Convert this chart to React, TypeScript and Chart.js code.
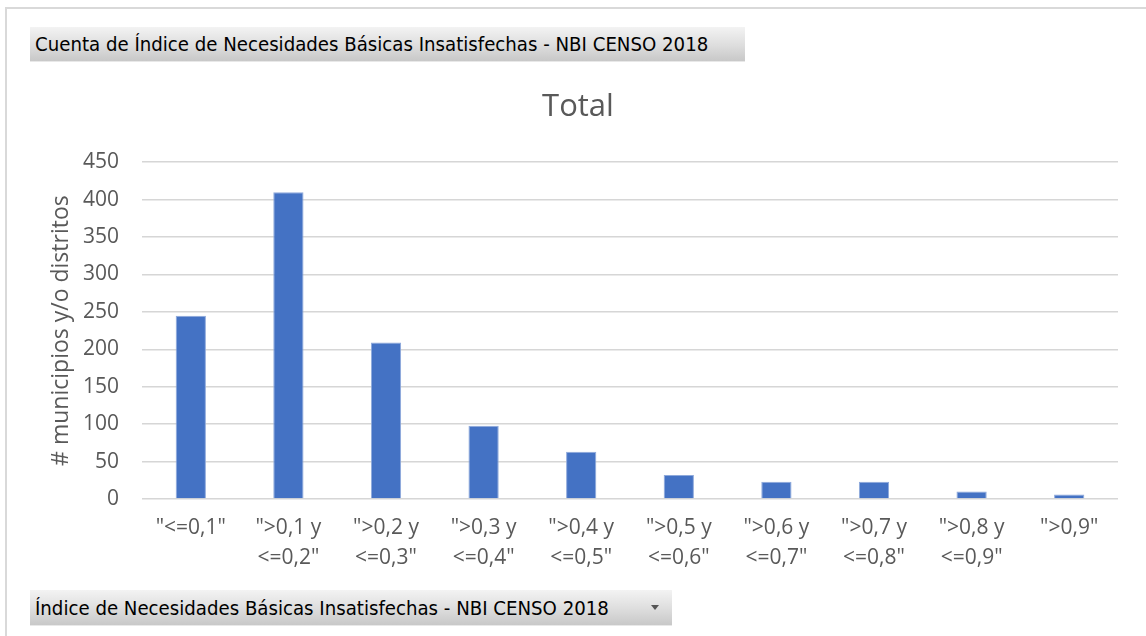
import React, { useEffect, useRef } from "react";
import { Chart, registerables } from "chart.js";

Chart.register(...registerables);

const categories: (string | string[])[] = [
  '"<=0,1"',
  ['">0,1 y', '<=0,2"'],
  ['">0,2 y', '<=0,3"'],
  ['">0,3 y', '<=0,4"'],
  ['">0,4 y', '<=0,5"'],
  ['">0,5 y', '<=0,6"'],
  ['">0,6 y', '<=0,7"'],
  ['">0,7 y', '<=0,8"'],
  ['">0,8 y', '<=0,9"'],
  '">0,9"',
];
const counts = [245, 410, 209, 98, 63, 32, 23, 23, 10, 6];
const yMax = 450;
const yStep = 50;
const chartTitle = "Total";
const yAxisTitle = "# municipios y/o distritos";
const topButtonText = "Cuenta de Índice de Necesidades Básicas Insatisfechas - NBI CENSO 2018";
const bottomButtonText = "Índice de Necesidades Básicas Insatisfechas - NBI CENSO 2018";

const FONT = "'Open Sans', 'Noto Sans', sans-serif";
const BTN_FONT = "'DejaVu Sans Condensed', 'DejaVu Sans', sans-serif";
const TEXT = "#595959";

const buttonStyle: React.CSSProperties = {
  position: "absolute",
  left: 30,
  background: "linear-gradient(to bottom, #f3f3f3 0%, #dddddd 55%, #c8c8c8 100%)",
  borderBottom: "1px solid #e8e8e8",
  fontFamily: BTN_FONT,
  fontSize: 20.2,
  color: "#000",
  boxSizing: "border-box",
  paddingLeft: 5,
  whiteSpace: "nowrap",
  zIndex: 2,
};

export default function App() {
  const ref = useRef<HTMLCanvasElement>(null);
  useEffect(() => {
    document.body.style.margin = "0";
    const chart = new Chart(ref.current!, {
      type: "bar",
      data: {
        labels: categories,
        datasets: [
          {
            data: counts,
            backgroundColor: "#4472C4",
            borderColor: "#8EA9DB",
            borderWidth: 1,
            barPercentage: 0.31,
            categoryPercentage: 1,
          },
        ],
      },
      options: {
        animation: false,
        responsive: false,
        maintainAspectRatio: false,
        layout: { padding: { top: 89, left: 38, right: 28, bottom: 49 } },
        plugins: {
          legend: { display: false },
          tooltip: { enabled: false },
          title: {
            display: true,
            text: chartTitle,
            color: TEXT,
            font: { family: FONT, size: 31, weight: "normal" },
            padding: { top: 0, bottom: 36 },
          },
        },
        scales: {
          x: {
            grid: { display: false, drawTicks: false },
            border: { display: false },
            ticks: {
              color: TEXT,
              font: { family: FONT, size: 21, lineHeight: "30px" as any },
              padding: 14,
              maxRotation: 0,
              autoSkip: false,
            },
          },
          y: {
            min: 0,
            max: yMax,
            afterFit: (scale: any) => {
              scale.width = 104;
            },
            ticks: {
              stepSize: yStep,
              color: TEXT,
              font: { family: FONT, size: 21 },
              padding: 23,
            },
            grid: { color: "#d6d6d6", lineWidth: 1.6, drawTicks: false },
            border: { display: false },
            title: {
              display: true,
              text: yAxisTitle,
              color: TEXT,
              font: { family: FONT, size: 23 },
              padding: { top: 10, bottom: 0 },
            },
          },
        },
      },
    });
    return () => chart.destroy();
  }, []);

  return (
    <div style={{ position: "absolute", left: 0, top: 0, width: 1146, height: 636, background: "#fff", overflow: "hidden" }}>
      <div
        style={{
          position: "absolute",
          left: 5,
          top: 7,
          width: 1200,
          height: 700,
          borderTop: "2px solid #d9d9d9",
          borderLeft: "2px solid #d9d9d9",
          zIndex: 1,
        }}
      />
      <canvas ref={ref} width={1146} height={636} style={{ position: "absolute", left: 0, top: 0 }} />
      <div style={{ ...buttonStyle, top: 27, width: 715, height: 35, lineHeight: "35px" }}>{topButtonText}</div>
      <div style={{ ...buttonStyle, top: 590, width: 642, height: 36, lineHeight: "36px" }}>
        {bottomButtonText}
        <div
          style={{
            position: "absolute",
            left: 621,
            top: 15,
            width: 0,
            height: 0,
            borderLeft: "4px solid transparent",
            borderRight: "4px solid transparent",
            borderTop: "5px solid #555",
          }}
        />
      </div>
    </div>
  );
}
